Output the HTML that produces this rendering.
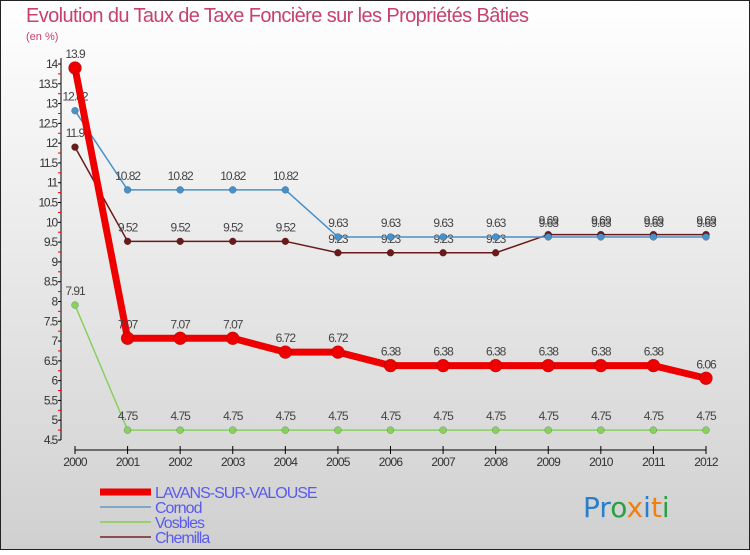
<!DOCTYPE html>
<html><head><meta charset="utf-8"><style>
body{margin:0;width:750px;height:550px;overflow:hidden;font-family:"Liberation Sans",sans-serif}
</style></head><body>
<svg id="c" width="750" height="550" xmlns="http://www.w3.org/2000/svg">
<defs><linearGradient id="bg" x1="0" y1="0" x2="0" y2="1"><stop offset="0" stop-color="#ffffff"/><stop offset="1" stop-color="#d0d0d0"/></linearGradient></defs>
<rect x="0.5" y="0.5" width="749" height="549" fill="url(#bg)" stroke="#222"/>
<text x="26" y="22" font-size="20" fill="#c8406e" letter-spacing="-0.6">Evolution du Taux de Taxe Foncière sur les Propriétés Bâties</text>
<text x="26" y="40" font-size="11" fill="#c8406e">(en %)</text>
<g id="axes"></g><g id="series"></g><g id="legend"></g>
<text x="583" y="517" font-size="28" font-family="DejaVu Sans, sans-serif"><tspan fill="#2a7fc8">Pr</tspan><tspan fill="#2aa040">o</tspan><tspan fill="#f08010">x</tspan><tspan fill="#2a7fc8">i</tspan><tspan fill="#f08010">t</tspan><tspan fill="#2aa040">i</tspan></text>
</svg>
<script>
const years=[2000,2001,2002,2003,2004,2005,2006,2007,2008,2009,2010,2011,2012];
const lavans=[13.9,7.07,7.07,7.07,6.72,6.72,6.38,6.38,6.38,6.38,6.38,6.38,6.06];
const cornod=[12.82,10.82,10.82,10.82,10.82,9.63,9.63,9.63,9.63,9.63,9.63,9.63,9.63];
const vosbles=[7.91,4.75,4.75,4.75,4.75,4.75,4.75,4.75,4.75,4.75,4.75,4.75,4.75];
const chemilla=[11.9,9.52,9.52,9.52,9.52,9.23,9.23,9.23,9.23,9.69,9.69,9.69,9.69];
const yTicks=[4.5,5,5.5,6,6.5,7,7.5,8,8.5,9,9.5,10,10.5,11,11.5,12,12.5,13,13.5,14];
const NS="http://www.w3.org/2000/svg";
const X=i=>75+i*(706-75)/(years.length-1);
const Y=v=>64+(14-v)*(440-64)/9.5;
function mk(t,a,p){const e=document.createElementNS(NS,t);for(const k in a)e.setAttribute(k,a[k]);p.appendChild(e);return e;}
const ax=document.getElementById('axes');
const yl=mk('line',{x1:61,y1:58,x2:61,y2:440,stroke:'#000'},ax);


for(let v=4.5;v<=14.01;v+=0.25){const t=mk('line',{x1:58,x2:61,y1:Y(v),y2:Y(v),stroke:(Math.abs(v*2-Math.round(v*2))<0.01)?'#000':'#e00'},ax);

}
yTicks.forEach(v=>{const t=mk('text',{x:57,y:Y(v)+4,'font-size':12,'text-anchor':'end',fill:'#333','letter-spacing':'-1.2'},ax);t.textContent=String(v);

});
const xl=mk('line',{x1:75,y1:450,x2:706,y2:450,stroke:'#000'},ax);


years.forEach((y,i)=>{mk('line',{x1:X(i),x2:X(i),y1:446,y2:454,stroke:'#000'},ax);
const t=mk('text',{x:X(i),y:466,'font-size':12,'text-anchor':'middle',fill:'#333','letter-spacing':'-0.8'},ax);t.textContent=y;

});
const sg=document.getElementById('series');
function series(name,vals,color,w,r){
 const g=mk('g',{},sg);
 
 
 const pl=mk('polyline',{points:vals.map((v,i)=>X(i)+','+Y(v)).join(' '),fill:'none',stroke:color,'stroke-width':w,'stroke-linejoin':'round'},g);
 
 
 vals.forEach((v,i)=>{const c=mk('circle',{cx:X(i),cy:Y(v),r:r,fill:color,stroke:'rgba(0,0,0,0.3)','stroke-width':0.5},g);
 
 
 const t=mk('text',{x:X(i),y:Y(v)-10,'font-size':12,'text-anchor':'middle',fill:'#444','letter-spacing':'-1'},g);t.textContent=String(v);
 
 });
}
series('vosbles',vosbles,'#88d060',1.5,3.5);
series('chemilla',chemilla,'#6a1a1a',1.5,3.5);
series('cornod',cornod,'#4a90c8',1.5,3.5);
series('lavans',lavans,'#ee0000',7,6.5);
const lg=document.getElementById('legend');
[['LAVANS-SUR-VALOUSE','#ee0000',7],['Cornod','#80a8c8',2],['Vosbles','#98d070',2],['Chemilla','#8a5050',2]].forEach((d,i)=>{
 const y=492+i*15;
 const l=mk('line',{x1:100,x2:151,y1:y,y2:y,stroke:d[1],'stroke-width':d[2]},lg);
 
 
 const t=mk('text',{x:155,y:y+6,'font-size':16,fill:'#5a5aee','letter-spacing':'-1'},lg);t.textContent=d[0];
 
 
});
</script>
</body></html>
